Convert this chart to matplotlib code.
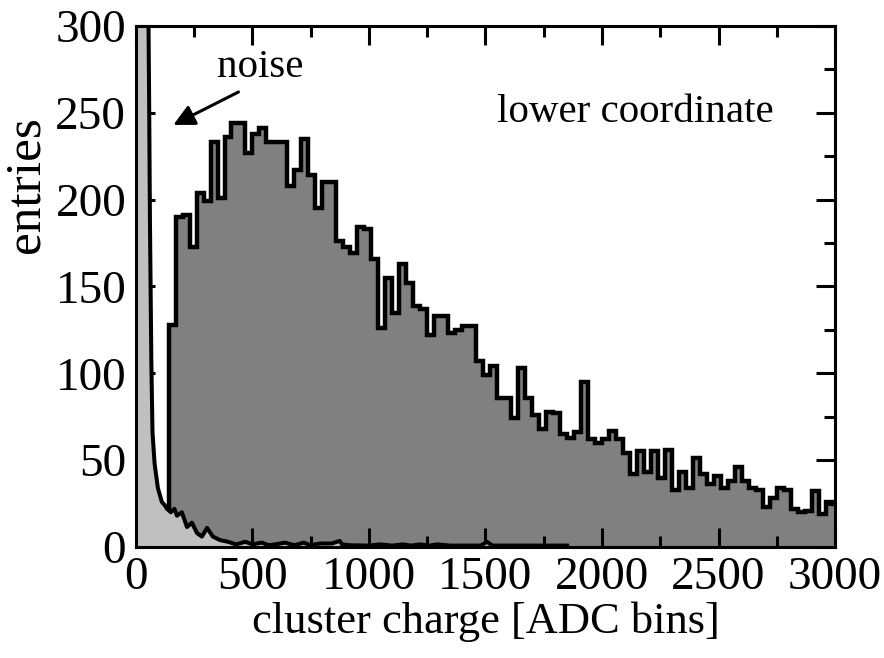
#! /usr/bin/env python3
import matplotlib
matplotlib.use("Agg")
import matplotlib.pyplot as plt
import numpy as np

plt.rcParams["font.family"] = ["Liberation Serif", "DejaVu Serif"]

# signal: cluster charge histogram, 30 ADC bins starting at 140
BIN_START = 140
BIN_WIDTH = 30
signal_counts = [
    128, 190, 191, 173, 204, 199, 233, 201, 236, 244,
    244, 227, 238, 241, 233, 233, 233, 208, 217, 235,
    214, 195, 210, 210, 176, 173, 169, 184, 183, 166,
    126, 155, 135, 163, 152, 139, 137, 122, 133, 133,
    123, 125, 127, 127, 107, 99, 104, 86, 86, 74,
    103, 86, 76, 68, 78, 77, 65, 63, 66, 95,
    62, 60, 62, 67, 62, 54, 42, 55, 43, 55,
    40, 56, 33, 43, 34, 51, 42, 36, 41, 34,
    38, 46, 38, 34, 33, 23, 28, 34, 33, 22,
    20, 21, 32, 19, 26, 25,
]
signal_edges = BIN_START + BIN_WIDTH * np.arange(len(signal_counts) + 1)

# noise distribution
noise_x = [0, 50, 54, 57, 60, 66, 71, 80, 94, 111, 124, 133, 150, 165,
           176, 197, 219, 240, 262, 283, 305, 330, 360, 395, 430, 469,
           500, 540, 570, 598, 640, 680, 720, 748, 790, 840, 875, 884,
           920, 1000, 1047, 1100, 1146, 1180, 1219, 1260, 1292, 1350,
           1420, 1480, 1506, 1530, 1600, 1700, 1850]
noise_y = [5000, 320, 300, 249, 188, 107, 66, 48, 34, 26, 24, 22, 20, 22,
           18, 20, 11.5, 14, 8, 6, 11, 6, 4, 3, 1.5, 3,
           1.5, 2.5, 1, 1.5, 2.5, 1, 2.5, 1, 2, 2, 3.5, 1.5,
           1, 0.8, 1.5, 0.8, 1.5, 0.8, 1.5, 0.8, 1.5, 0.8,
           0.8, 0.8, 3, 0.8, 0.8, 0.8, 0.8]

fig = plt.figure(figsize=(8.84, 6.58), dpi=100)
ax = fig.add_axes([0.1538, 0.1687, 0.7908, 0.7918])

ax.stairs(signal_counts, signal_edges, fill=True, color="#808080", zorder=1)
ax.stairs(signal_counts, signal_edges, color="black", lw=3.2, zorder=2)
ax.fill_between(noise_x, noise_y, color="#c0c0c0", lw=0, zorder=3)
ax.plot(noise_x, noise_y, color="black", lw=2.9, zorder=4,
        solid_joinstyle="round")

ax.set_xlim(0, 3000)
ax.set_ylim(0, 300)
ax.set_xticks(np.arange(0, 3001, 500))
ax.set_xticks(np.arange(0, 3001, 250), minor=True)
ax.set_yticks(np.arange(0, 301, 50))
ax.set_yticks(np.arange(0, 301, 25), minor=True)
ax.tick_params(which="both", direction="in", top=True, right=True,
               width=2.2, labelsize=34, pad=7)
ax.tick_params(which="major", length=14)
ax.tick_params(which="minor", length=8)
for s in ax.spines.values():
    s.set_linewidth(2.2)
    s.set_zorder(6)

ax.set_xlabel("cluster charge [ADC bins]", fontsize=32, labelpad=2)
ax.set_ylabel("entries", fontsize=37)
ax.yaxis.set_label_coords(-0.124, 0.695)

ax.text(2142, 250, "lower coordinate", fontsize=29.5, ha="center", va="center")
ax.text(532, 276, "noise", fontsize=29.5, ha="center", va="center")
ax.annotate("", xy=(160, 243), xytext=(440, 262),
            arrowprops=dict(arrowstyle="-|>", color="black", lw=2.2,
                            mutation_scale=32, shrinkA=0, shrinkB=0))

fig.savefig("out.png", dpi=100)
